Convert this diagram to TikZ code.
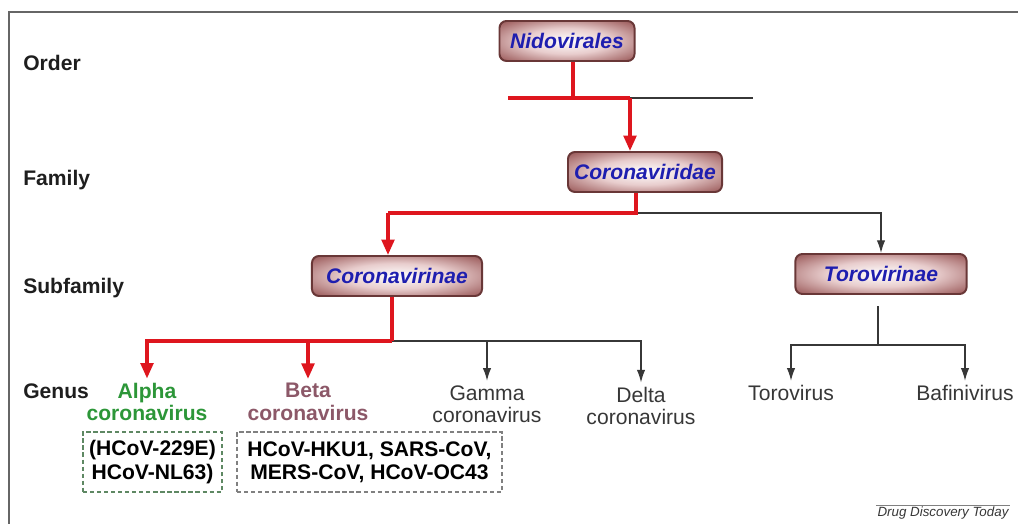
\documentclass[tikz,border=0pt]{standalone}
\usepackage{fontspec}
\setmainfont{Liberation Sans}
\usetikzlibrary{arrows.meta}
\definecolor{treered}{RGB}{222,22,30}
\definecolor{taxblue}{RGB}{30,30,175}
\definecolor{boxdark}{RGB}{105,55,55}
\definecolor{boxrose}{RGB}{165,105,105}
\definecolor{boxpink}{RGB}{232,205,205}
\definecolor{alphagreen}{RGB}{44,150,56}
\definecolor{betamauve}{RGB}{140,88,104}
\definecolor{genusgray}{RGB}{55,55,55}
\definecolor{labelblack}{RGB}{30,30,30}
\pgfdeclareradialshading{taxshade}{\pgfpoint{0bp}{0bp}}{color(0bp)=(white); color(16bp)=(boxpink); color(32bp)=(boxrose); color(44bp)=(boxdark); color(100bp)=(boxdark)}
\tikzset{
  taxbox/.style={draw=boxdark, line width=1.4pt, rounded corners=5pt,
    shading=taxshade, minimum width=#1, minimum height=1cm, inner sep=2pt,
    font=\fontsize{15}{17}\selectfont\bfseries\itshape, text=taxblue},
  levellabel/.style={anchor=west, inner sep=0pt, text=labelblack,
    font=\fontsize{15}{17}\selectfont\bfseries},
  genus/.style={align=center, inner sep=3pt, text=genusgray,
    font=\fontsize{15}{16}\selectfont},
  exbox/.style={draw=#1, dashed, dash pattern=on 3pt off 2pt, line width=0.8pt,
    align=center, minimum height=1.5cm, inner sep=2pt, text=black,
    font=\fontsize{15}{16.5}\selectfont\bfseries},
  redline/.style={draw=treered, line width=2.4pt},
  redarrow/.style={redline, -{Triangle[width=9pt,length=11pt]}},
  blackline/.style={draw=genusgray, line width=0.9pt},
  blackarrow/.style={blackline, -{Latex[width=6pt,length=9pt]}}
}
\begin{document}
\begin{tikzpicture}[x=0.025cm, y=-0.025cm]
	\useasboundingbox (0,0) rectangle (1018,524);
	\draw[gray!80!black, line width=1.4pt] (9,524) -- (9,12) -- (1018,12);
	%
	\node[levellabel] (lorder) at (23,63) {Order};
	\node[levellabel] (lfamily) at (23,180) {Family};
	\node[levellabel] (lsubfam) at (23,288) {Subfamily};
	\node[levellabel] (lgenus) at (23,391) {Genus};
	%
	\node[taxbox=3.375cm] (nido) at (567,41) {Nidovirales};
	\node[taxbox=3.85cm] (cviridae) at (645,172) {Coronaviridae};
	\node[taxbox=4.25cm] (cvirinae) at (397,276) {Coronavirinae};
	\node[taxbox=4.28cm] (torovirinae) at (881,274) {Torovirinae};
	%
	\node[genus, text=alphagreen, font=\fontsize{15}{16}\selectfont\bfseries] (alpha) at (147,402) {Alpha\\coronavirus};
	\node[genus, text=betamauve, font=\fontsize{15}{16}\selectfont\bfseries] (beta) at (308,402) {Beta\\coronavirus};
	\node[genus] (gamma) at (487,404) {Gamma\\coronavirus};
	\node[genus] (delta) at (641,406) {Delta\\coronavirus};
	\node[genus] (torov) at (791,393) {Torovirus};
	\node[genus] (bafini) at (965,393) {Bafinivirus};
	%
	\node[exbox=alphagreen!40!gray, minimum width=3.475cm] (alphaex) at (152.5,462) {(HCoV-229E)\\HCoV-NL63)};
	\node[exbox=gray, minimum width=6.625cm] (betaex) at (369.5,462) {HCoV-HKU1, SARS-CoV,\\MERS-CoV, HCoV-OC43};
	%
	\coordinate (nj) at (573,98);
	\coordinate (nl) at (508,98);
	\coordinate (nr) at (630,98);
	\coordinate (ne) at (753,98);
	\draw[blackline] (nr) -- (ne);
	\draw[redline] (nido.south -| nj) -- (nj);
	\draw[redline] (nl) -- (nr);
	\draw[redarrow] (nr) -- (nr |- cviridae.north);
	%
	\coordinate (fj) at (636,213);
	\coordinate (fa) at (388,213);
	\draw[blackarrow] (fj) -| (torovirinae.north);
	\draw[redline] (cviridae.south -| fj) -- (fj) -- (fa);
	\draw[redarrow] (fa) -- (fa |- cvirinae.north);
	%
	\coordinate (sj) at (392,341);
	\draw[blackarrow] (sj) -| (gamma.north);
	\draw[blackarrow] (sj) -| (delta.north);
	\draw[redline] (cvirinae.south -| sj) -- (sj);
	\draw[redarrow] (sj) -| (alpha.north);
	\draw[redarrow] (sj) -| (beta.north);
	%
	\coordinate (tj) at (878,345);
	\draw[blackline, shorten <=8pt] (torovirinae.south -| tj) -- (tj);
	\draw[blackarrow] (tj) -| (torov.north);
	\draw[blackarrow] (tj) -| (bafini.north);
	%
	\node[inner sep=1pt, text=genusgray, font=\fontsize{9.5}{11}\selectfont\itshape] (credit) at (943,513) {Drug Discovery Today};
	\draw[gray, line width=0.6pt, yshift=3pt] (credit.north west) -- (credit.north east);
\end{tikzpicture}
\end{document}
